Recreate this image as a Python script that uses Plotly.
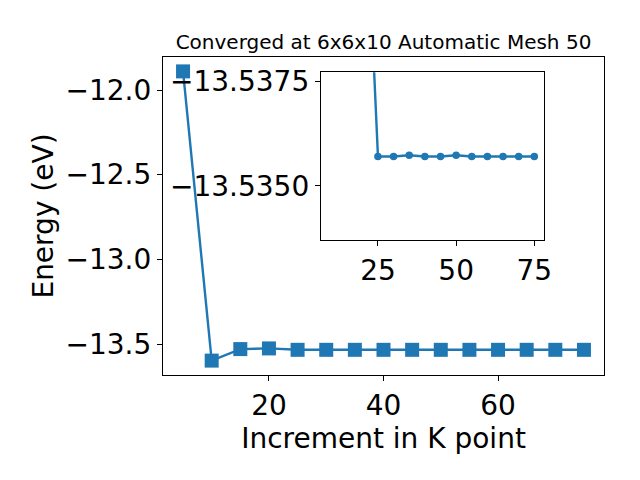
import plotly.graph_objects as go

# ---- data ----
K_POINTS = [5, 10, 15, 20, 25, 30, 35, 40, 45, 50, 55, 60, 65, 70, 75]
ENERGY = [-11.89, -13.598, -13.530, -13.526, -13.5343, -13.5343, -13.53427,
          -13.5343, -13.5343, -13.53427, -13.5343, -13.5343, -13.5343,
          -13.5343, -13.5343]
INSET_START = 3  # inset shows the series from K = 20 on

MAIN_X_TICKS = [20, 40, 60]
MAIN_Y_TICKS = [-13.5, -13.0, -12.5, -12.0]
INSET_X_TICKS = [25, 50, 75]
INSET_Y_TICKS = [-13.5325, -13.5350]
INSET_Y_TICK_LABELS = ["\u221213.5375", "\u221213.5350"]

TITLE = "Converged at 6x6x10 Automatic Mesh 50"
X_TITLE = "Increment in K point"
Y_TITLE = "Energy (eV)"

BLUE = "#1f77b4"
FONT = "DejaVu Sans"

fig = go.Figure()
fig.add_trace(go.Scatter(
    x=K_POINTS, y=ENERGY, mode="lines+markers",
    line=dict(color=BLUE, width=2.4),
    marker=dict(symbol="square", size=14, color=BLUE),
    xaxis="x", yaxis="y", showlegend=False, cliponaxis=False))
fig.add_trace(go.Scatter(
    x=K_POINTS[INSET_START:], y=ENERGY[INSET_START:], mode="lines+markers",
    line=dict(color=BLUE, width=2.4),
    marker=dict(symbol="circle", size=7.5, color=BLUE),
    xaxis="x2", yaxis="y2", showlegend=False))

axis_common = dict(showgrid=False, zeroline=False, showline=True,
                   linecolor="black", linewidth=1.1, mirror=True,
                   ticks="outside", ticklen=5, tickwidth=1.1,
                   tickcolor="black", tickfont=dict(family=FONT, size=28, color="black"))

# the page body adds an 8px offset, so margins are shifted accordingly
fig.update_layout(
    width=640, height=480,
    margin=dict(l=155, r=44, t=49, b=113, autoexpand=False),
    paper_bgcolor="white", plot_bgcolor="white",
    font=dict(family=FONT, color="black"),
    title=dict(text=TITLE, x=0.5, xref="paper", xanchor="center",
               y=1, yref="paper", yanchor="bottom", pad=dict(b=8),
               font=dict(family=FONT, size=20, color="black")),
    xaxis=dict(axis_common, domain=[0, 1], range=[1.5, 78.5],
               tickvals=MAIN_X_TICKS,
               title=dict(text=X_TITLE, standoff=7,
                          font=dict(family=FONT, size=28, color="black"))),
    yaxis=dict(axis_common, domain=[0, 1], range=[-13.683, -11.805],
               tickvals=MAIN_Y_TICKS, tickformat=".1f",
               title=dict(text=Y_TITLE, standoff=3,
                          font=dict(family=FONT, size=28, color="black"))),
    xaxis2=dict(axis_common, domain=[0.358, 0.865], range=[6.75, 78.25],
                tickvals=INSET_X_TICKS, anchor="y2"),
    yaxis2=dict(axis_common, domain=[0.4245, 0.952],
                range=[-13.53629, -13.53229],
                tickvals=INSET_Y_TICKS, ticktext=INSET_Y_TICK_LABELS,
                anchor="x2"),
)

fig.write_html("out.html")
